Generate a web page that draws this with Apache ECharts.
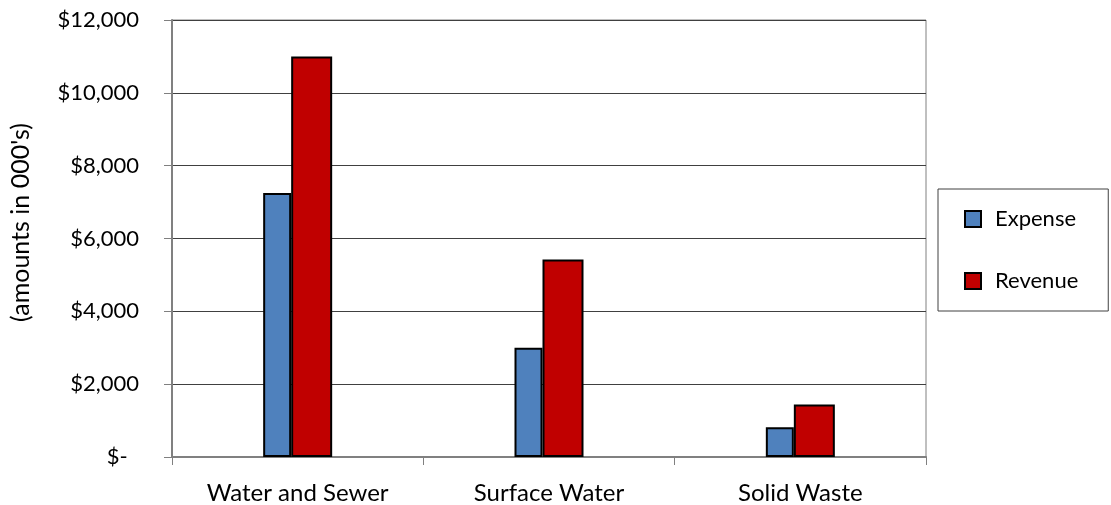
<!DOCTYPE html>
<html>
<head>
<meta charset="utf-8">
<script src="https://cdn.jsdelivr.net/npm/echarts@6/dist/echarts.min.js"></script>
<style>
  html, body { margin: 0; padding: 0; background: #fff; }
  #chart { width: 1111px; height: 505px; }
</style>
</head>
<body>
<div id="chart"></div>
<script>
// Datos del gráfico (amounts in 000's)
const categories = ['Water and Sewer', 'Surface Water', 'Solid Waste']
const expense = [7250, 3000, 820]
const revenue = [11000, 5420, 1440]
const seriesNames = ['Expense', 'Revenue']

const fontFamily = 'Lato, "DejaVu Sans", sans-serif'
const textColor = '#000'

// Formato tipo contabilidad: $12,000 y $- para cero
const moneyFormatter = (v) => {
  if (v === 0) return '$-  '
  return '$' + v.toLocaleString('en-US')
}

const chart = echarts.init(document.getElementById('chart'))

chart.setOption({
  animation: false,
  backgroundColor: '#fff',
  grid: {
    left: 172,
    right: 185,
    top: 20,
    bottom: 48,
    outerBoundsMode: 'none',
    containLabel: false,
    show: true,
    borderColor: '#808080',
    borderWidth: 1
  },
  legend: {
    orient: 'vertical',
    left: 938,
    top: 189,
    padding: [19, 30, 19, 26],
    borderColor: '#404040',
    borderWidth: 1,
    itemWidth: 16,
    itemHeight: 16,
    itemGap: 40,
    itemStyle: { borderColor: '#000', borderWidth: 2 },
    icon: 'rect',
    textStyle: { fontFamily, fontSize: 22, color: textColor, lineHeight: 20, padding: [0, 0, 0, 9] },
    data: seriesNames
  },
  xAxis: {
    type: 'category',
    data: categories,
    axisLine: { show: true, lineStyle: { color: '#808080', width: 2 } },
    axisTick: { show: true, alignWithLabel: false, length: 8, lineStyle: { color: '#808080', width: 1 } },
    axisLabel: { fontFamily, fontSize: 24, color: textColor, margin: 24 },
    splitLine: { show: false }
  },
  yAxis: {
    type: 'value',
    min: 0,
    max: 12000,
    interval: 2000,
    name: "(amounts in 000's)",
    nameLocation: 'middle',
    nameGap: 139,
    nameRotate: 90,
    nameTextStyle: { fontFamily, fontSize: 25, color: textColor, padding: [0, 0, 0, 32] },
    axisLine: { show: true, lineStyle: { color: '#808080', width: 2 } },
    axisTick: { show: true, length: 8, lineStyle: { color: '#808080', width: 1 } },
    axisLabel: { fontFamily, fontSize: 22, color: textColor, margin: 33, formatter: moneyFormatter },
    splitLine: { show: true, lineStyle: { color: '#404040', width: 1 } }
  },
  series: [
    {
      name: seriesNames[0],
      type: 'bar',
      data: expense,
      barWidth: 28,
      barGap: 0,
      itemStyle: { color: '#4F81BD', borderColor: '#000', borderWidth: 2 }
    },
    {
      name: seriesNames[1],
      type: 'bar',
      data: revenue,
      barWidth: 41,
      barGap: 0,
      itemStyle: { color: '#C00000', borderColor: '#000', borderWidth: 2 }
    }
  ]
})
</script>
</body>
</html>
